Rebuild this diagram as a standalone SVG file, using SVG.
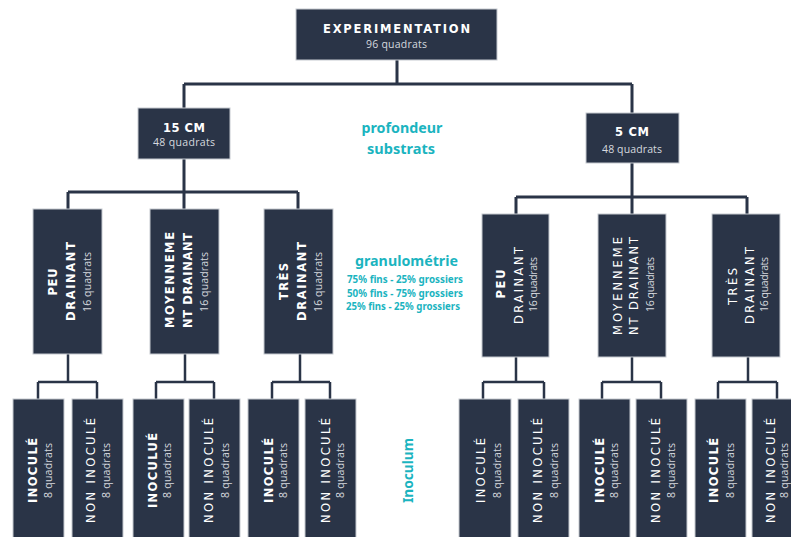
<svg xmlns="http://www.w3.org/2000/svg" width="791" height="537" viewBox="0 0 791 537">
<style>
.box{fill:#2a3447;stroke:#c5c9d0;stroke-width:1}
.t{font-family:"DejaVu Sans","Liberation Sans",sans-serif;fill:#ffffff;text-anchor:middle}
.h{font-weight:700;font-size:11.5px}
.m{font-weight:400;font-size:11.5px}
.s{font-family:"Open Sans","Liberation Sans",sans-serif;font-weight:400;font-size:10.5px;fill:#d6d9df}
.teal{font-family:"Noto Sans","Liberation Sans",sans-serif;font-weight:700;fill:#1bb4bf;text-anchor:middle}
.c{fill:none;stroke:#2a3447;stroke-width:3}
.c2{fill:none;stroke:#2a3447;stroke-width:2.5}
</style>
<rect width="791" height="537" fill="#ffffff"/>
<g id="connectors">
<path class="c" d="M397,60V84M184,84H632M184,84V108M632,84V113"/>
<path class="c" d="M184,159V192M68,192H298M68,192V209M184,192V209M298,192V209"/>
<path class="c" d="M632,163V197M516,197H747M516,197V214M632,197V214M747,197V214"/>
<path class="c2" d="M68,354V382M38,382H97M38,382V399M97,382V399"/>
<path class="c2" d="M185,354V382M156,382H214M156,382V399M214,382V399"/>
<path class="c2" d="M300,354V382M272,382H330M272,382V399M330,382V399"/>
<path class="c2" d="M516,357V382M483,382H544M483,382V399M544,382V399"/>
<path class="c2" d="M632,357V382M602,382H661M602,382V399M661,382V399"/>
<path class="c2" d="M748,357V382M718,382H777M718,382V399M777,382V399"/>
</g>
<g id="experimentation">
<rect class="box" x="296" y="9" width="201" height="51"/>
<text class="t h" x="396.5" y="33" textLength="147" lengthAdjust="spacing">EXPERIMENTATION</text>
<text class="t s" x="396.5" y="48" textLength="61" lengthAdjust="spacing">96 quadrats</text>
</g>
<g id="cm15">
<rect class="box" x="138" y="108" width="92" height="51"/>
<text class="t h" x="184" y="131.5" textLength="42" lengthAdjust="spacing">15 CM</text>
<text class="t s" x="184" y="146" textLength="62" lengthAdjust="spacing">48 quadrats</text>
</g>
<g id="cm5">
<rect class="box" x="586" y="113" width="93" height="50"/>
<text class="t h" x="632" y="135.5" textLength="34" lengthAdjust="spacing">5 CM</text>
<text class="t s" x="632" y="152.5" textLength="60" lengthAdjust="spacing">48 quadrats</text>
</g>
<g id="label-profondeur">
<text class="teal" x="402" y="133" font-size="14" textLength="81" lengthAdjust="spacingAndGlyphs">profondeur</text>
<text class="teal" x="401" y="154" font-size="14" textLength="68" lengthAdjust="spacingAndGlyphs">substrats</text>
</g>
<g id="label-granulometrie">
<text class="teal" x="406.5" y="266" font-size="14.5" textLength="103" lengthAdjust="spacingAndGlyphs">granulométrie</text>
<text class="teal" x="405" y="283" font-size="10.5" textLength="116" lengthAdjust="spacingAndGlyphs">75% fins - 25% grossiers</text>
<text class="teal" x="405" y="296.5" font-size="10.5" textLength="116" lengthAdjust="spacingAndGlyphs">50% fins - 75% grossiers</text>
<text class="teal" x="403" y="310" font-size="10.5" textLength="114" lengthAdjust="spacingAndGlyphs">25% fins - 25% grossiers</text>
</g>
<g id="label-inoculum">
<text class="teal" transform="translate(413,470.5) rotate(-90)" font-size="14" textLength="65" lengthAdjust="spacingAndGlyphs">Inoculum</text>
</g>
<g id="l-peu">
<rect class="box" x="33" y="209" width="69" height="145"/>
<text class="t h" transform="translate(57,282) rotate(-90)" textLength="27" lengthAdjust="spacing">PEU</text>
<text class="t h" transform="translate(75,281.5) rotate(-90)" textLength="79" lengthAdjust="spacing">DRAINANT</text>
<text class="t s" transform="translate(91,282) rotate(-90)" textLength="60" lengthAdjust="spacing">16 quadrats</text>
</g>
<g id="l-moyen">
<rect class="box" x="150" y="209" width="69" height="145"/>
<text class="t h" transform="translate(174,280) rotate(-90)" textLength="96" lengthAdjust="spacing">MOYENNEME</text>
<text class="t h" transform="translate(192,280.5) rotate(-90)" textLength="95" lengthAdjust="spacing">NT DRAINANT</text>
<text class="t s" transform="translate(208,282) rotate(-90)" textLength="60" lengthAdjust="spacing">16 quadrats</text>
</g>
<g id="l-tres">
<rect class="box" x="264" y="209" width="69" height="145"/>
<text class="t h" transform="translate(288,281.5) rotate(-90)" textLength="37" lengthAdjust="spacing">TRÈS</text>
<text class="t h" transform="translate(306,281.5) rotate(-90)" textLength="79" lengthAdjust="spacing">DRAINANT</text>
<text class="t s" transform="translate(322,282) rotate(-90)" textLength="60" lengthAdjust="spacing">16 quadrats</text>
</g>
<g id="r-peu">
<rect class="box" x="482" y="214" width="67" height="143"/>
<text class="t h" transform="translate(505,284) rotate(-90)" textLength="29" lengthAdjust="spacing">PEU</text>
<text class="t m" transform="translate(523,285.5) rotate(-90)" textLength="77" lengthAdjust="spacing">DRAINANT</text>
<text class="t s" transform="translate(537,284.5) rotate(-90)" textLength="55" lengthAdjust="spacing">16 quadrats</text>
</g>
<g id="r-moyen">
<rect class="box" x="598" y="214" width="68" height="143"/>
<text class="t m" transform="translate(622,286) rotate(-90)" textLength="98" lengthAdjust="spacing">MOYENNEME</text>
<text class="t m" transform="translate(638,286) rotate(-90)" textLength="98" lengthAdjust="spacing">NT DRAINANT</text>
<text class="t s" transform="translate(654,284.5) rotate(-90)" textLength="55" lengthAdjust="spacing">16 quadrats</text>
</g>
<g id="r-tres">
<rect class="box" x="712" y="214" width="68" height="143"/>
<text class="t m" transform="translate(737,286.5) rotate(-90)" textLength="37" lengthAdjust="spacing">TRÈS</text>
<text class="t m" transform="translate(754,285.5) rotate(-90)" textLength="77" lengthAdjust="spacing">DRAINANT</text>
<text class="t s" transform="translate(768,284.5) rotate(-90)" textLength="55" lengthAdjust="spacing">16 quadrats</text>
</g>
<g id="b1">
<rect class="box" x="13" y="399" width="51" height="145"/>
<text class="t h" transform="translate(37,470.5) rotate(-90)" textLength="65" lengthAdjust="spacing">INOCULÉ</text>
<text class="t s" transform="translate(52,470.5) rotate(-90)" textLength="55" lengthAdjust="spacing">8 quadrats</text>
</g>
<g id="b2">
<rect class="box" x="72" y="399" width="51" height="145"/>
<text class="t m" transform="translate(95,470.5) rotate(-90)" textLength="105" lengthAdjust="spacing">NON INOCULÉ</text>
<text class="t s" transform="translate(110,470.5) rotate(-90)" textLength="55" lengthAdjust="spacing">8 quadrats</text>
</g>
<g id="b3">
<rect class="box" x="133" y="399" width="51" height="145"/>
<text class="t h" transform="translate(157,470.5) rotate(-90)" textLength="75" lengthAdjust="spacing">INOCULUÉ</text>
<text class="t s" transform="translate(171,470.5) rotate(-90)" textLength="55" lengthAdjust="spacing">8 quadrats</text>
</g>
<g id="b4">
<rect class="box" x="189" y="399" width="51" height="145"/>
<text class="t m" transform="translate(213,470.5) rotate(-90)" textLength="105" lengthAdjust="spacing">NON INOCULÉ</text>
<text class="t s" transform="translate(229,470.5) rotate(-90)" textLength="55" lengthAdjust="spacing">8 quadrats</text>
</g>
<g id="b5">
<rect class="box" x="248" y="399" width="51" height="145"/>
<text class="t h" transform="translate(273,470.5) rotate(-90)" textLength="65" lengthAdjust="spacing">INOCULÉ</text>
<text class="t s" transform="translate(287,470.5) rotate(-90)" textLength="55" lengthAdjust="spacing">8 quadrats</text>
</g>
<g id="b6">
<rect class="box" x="305" y="399" width="51" height="145"/>
<text class="t m" transform="translate(330,470.5) rotate(-90)" textLength="105" lengthAdjust="spacing">NON INOCULÉ</text>
<text class="t s" transform="translate(344,470.5) rotate(-90)" textLength="55" lengthAdjust="spacing">8 quadrats</text>
</g>
<g id="b7">
<rect class="box" x="459" y="399" width="52" height="145"/>
<text class="t m" transform="translate(485,470.5) rotate(-90)" textLength="65" lengthAdjust="spacing">INOCULÉ</text>
<text class="t s" transform="translate(501,470.5) rotate(-90)" textLength="55" lengthAdjust="spacing">8 quadrats</text>
</g>
<g id="b8">
<rect class="box" x="518" y="399" width="51" height="145"/>
<text class="t m" transform="translate(542,470.5) rotate(-90)" textLength="105" lengthAdjust="spacing">NON INOCULÉ</text>
<text class="t s" transform="translate(558,470.5) rotate(-90)" textLength="55" lengthAdjust="spacing">8 quadrats</text>
</g>
<g id="b9">
<rect class="box" x="579" y="399" width="51" height="145"/>
<text class="t h" transform="translate(604,470.5) rotate(-90)" textLength="65" lengthAdjust="spacing">INOCULÉ</text>
<text class="t s" transform="translate(618,470.5) rotate(-90)" textLength="55" lengthAdjust="spacing">8 quadrats</text>
</g>
<g id="b10">
<rect class="box" x="636" y="399" width="51" height="145"/>
<text class="t m" transform="translate(660,470.5) rotate(-90)" textLength="105" lengthAdjust="spacing">NON INOCULÉ</text>
<text class="t s" transform="translate(675,470.5) rotate(-90)" textLength="55" lengthAdjust="spacing">8 quadrats</text>
</g>
<g id="b11">
<rect class="box" x="695" y="399" width="51" height="145"/>
<text class="t h" transform="translate(718,470.5) rotate(-90)" textLength="65" lengthAdjust="spacing">INOCULÉ</text>
<text class="t s" transform="translate(734,470.5) rotate(-90)" textLength="55" lengthAdjust="spacing">8 quadrats</text>
</g>
<g id="b12">
<rect class="box" x="752" y="399" width="51" height="145"/>
<text class="t m" transform="translate(775,470.5) rotate(-90)" textLength="105" lengthAdjust="spacing">NON INOCULÉ</text>
<text class="t s" transform="translate(788,470.5) rotate(-90)" textLength="55" lengthAdjust="spacing">8 quadrats</text>
</g>
</svg>
